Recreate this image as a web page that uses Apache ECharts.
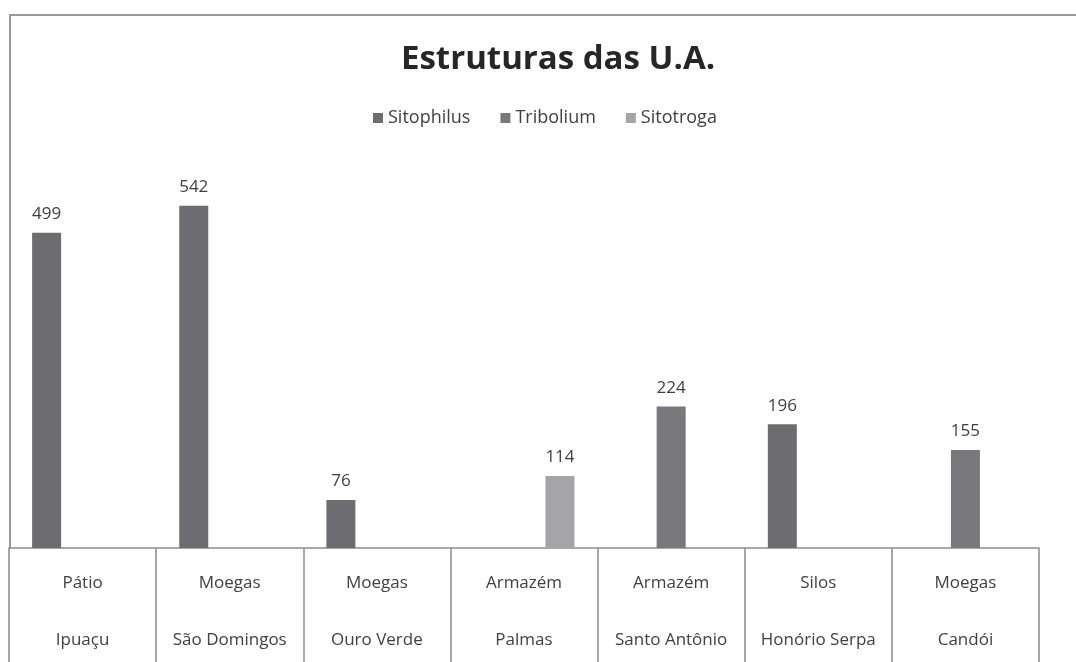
<!DOCTYPE html>
<html>
<head>
<meta charset="utf-8">
<script src="https://cdn.jsdelivr.net/npm/echarts@6/dist/echarts.min.js"></script>
<style>
html,body{margin:0;padding:0;background:#fff;}
#c{width:1076px;height:662px;}
</style>
</head>
<body>
<div id="c"></div>
<script>
const titleText = 'Estruturas das U.A.';
const catLine1 = ['Pátio', 'Moegas', 'Moegas', 'Armazém', 'Armazém', 'Silos', 'Moegas'];
const catLine2 = ['Ipuaçu', 'São Domingos', 'Ouro Verde', 'Palmas', 'Santo Antônio', 'Honório Serpa', 'Candói'];
const seriesNames = ['Sitophilus', 'Tribolium', 'Sitotroga'];
const sitophilus = [499, 542, 76, null, null, 196, null];
const tribolium = [null, null, null, null, 224, null, 155];
const sitotroga = [null, null, null, 114, null, null, null];

const colors = ['#6d6d71', '#79797d', '#a5a5a8'];
const FONT = 'Open Sans';
const categories = catLine1.map((a, i) => a + '\n' + catLine2[i]);

const chart = echarts.init(document.getElementById('c'), null, {renderer: 'canvas'});
const mk = (name, data, color) => ({
  name, type: 'bar', data,
  barWidth: 29, barGap: '24%',
  itemStyle: {color},
  label: {show: true, position: 'top', distance: 10, color: '#404040', fontFamily: FONT, fontSize: 17},
  animation: false
});
chart.setOption({
  animation: false,
  color: colors,
  title: {
    text: titleText, left: 553, top: 38, textAlign: 'center',
    textStyle: {fontFamily: FONT, fontWeight: 'bold', fontSize: 33, color: '#262626'}
  },
  legend: {
    data: seriesNames, top: 104, left: 368, itemWidth: 10, itemHeight: 10, itemGap: 30,
    icon: 'rect',
    textStyle: {fontFamily: FONT, fontSize: 18, color: '#404040'}
  },
  grid: {left: 9, right: 37, top: 169, bottom: 114, containLabel: false, outerBoundsMode: 'none'},
  xAxis: {
    type: 'category', data: categories,
    axisLine: {lineStyle: {color: '#8c8c8c', width: 1.5}},
    axisTick: {show: true, length: 120, lineStyle: {color: '#8c8c8c', width: 1.5}, alignWithLabel: false},
    axisLabel: {
      margin: 7, color: '#404040', fontFamily: FONT, fontSize: 17, lineHeight: 57, interval: 0,
      hideOverlap: false
    }
  },
  yAxis: {type: 'value', min: 0, max: 600, show: false, splitLine: {show: false}},
  graphic: [
    {type: 'line', shape: {x1: 9, y1: 15, x2: 1076, y2: 15}, style: {stroke: '#999', lineWidth: 2}},
    {type: 'line', shape: {x1: 10, y1: 15, x2: 10, y2: 548}, style: {stroke: '#999', lineWidth: 2}}
  ],
  series: [
    mk(seriesNames[0], sitophilus, colors[0]),
    mk(seriesNames[1], tribolium, colors[1]),
    mk(seriesNames[2], sitotroga, colors[2])
  ]
});
</script>
</body>
</html>
